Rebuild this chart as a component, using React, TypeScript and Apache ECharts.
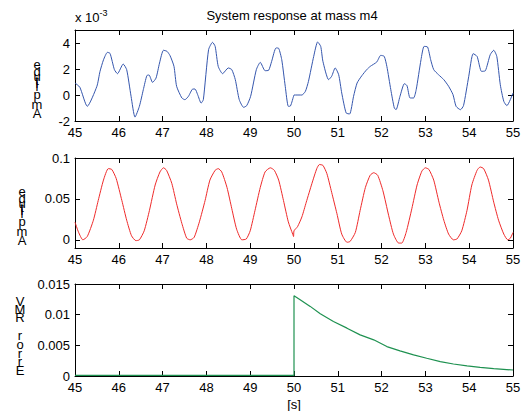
import React, { useEffect, useRef } from "react";
import * as echarts from "echarts";

// ---- Data ----
const xTicks = [45, 46, 47, 48, 49, 50, 51, 52, 53, 54, 55];

// Plot 1: amplitude (x 10^-3)
const t1 = [45.0, 45.11, 45.28, 45.5, 45.57, 45.65, 45.74, 45.8, 45.9, 45.97, 46.1, 46.18, 46.28, 46.37, 46.47, 46.56, 46.64, 46.69, 46.77, 46.85, 46.93, 47.02, 47.1, 47.17, 47.26, 47.32, 47.44, 47.51, 47.59, 47.69, 47.74, 47.8, 47.88, 47.93, 48.05, 48.14, 48.2, 48.27, 48.37, 48.5, 48.58, 48.66, 48.75, 48.85, 48.92, 49.01, 49.14, 49.23, 49.34, 49.42, 49.49, 49.59, 49.65, 49.72, 49.8, 49.87, 49.91, 49.99, 50.0, 50.18, 50.26, 50.33, 50.45, 50.54, 50.61, 50.66, 50.79, 50.86, 50.94, 51.02, 51.09, 51.19, 51.27, 51.36, 51.44, 51.55, 51.66, 51.74, 51.89, 51.98, 52.06, 52.12, 52.21, 52.29, 52.33, 52.42, 52.52, 52.58, 52.65, 52.73, 52.79, 52.9, 52.97, 53.05, 53.12, 53.19, 53.3, 53.42, 53.53, 53.63, 53.7, 53.8, 53.87, 53.99, 54.09, 54.18, 54.28, 54.37, 54.48, 54.56, 54.63, 54.71, 54.79, 54.86, 55.0];
const v1 = [0.92, 0.6, -0.87, 0.67, 1.8, 2.7, 3.28, 3.2, 1.95, 1.64, 2.38, 1.95, -0.1, -1.7, -0.87, 0.41, 1.49, 1.54, 0.97, 1.3, 2.46, 3.44, 3.36, 3.03, 2.2, 0.67, -0.23, -0.36, -0.1, 0.46, 0.46, 0.03, -0.62, -0.36, 3.49, 4.05, 3.74, 2.2, 1.64, 2.08, 1.95, 1.18, -0.36, -0.95, -0.82, -0.1, 1.95, 2.51, 1.87, 1.9, 2.59, 3.62, 3.59, 2.72, 0.67, -0.87, -0.87, -0.1, 0, 0, 0.28, 1.05, 2.97, 4.08, 3.74, 2.59, 1.18, 1.44, 2.08, 1.56, 0.15, -1.38, -1.46, -0.1, 0.92, 1.49, 1.95, 2.2, 2.54, 3.05, 2.97, 2.2, 0.41, -1.0, -1.13, -0.1, 0.87, 0.72, -0.23, -0.23, 0.41, 2.72, 3.74, 3.69, 2.72, 1.95, 1.56, 1.18, 0.67, 0.03, -0.87, -1.13, -0.82, 1.44, 3.18, 2.97, 1.82, 1.87, 3.1, 3.44, 2.97, 0.79, -0.49, -0.82, 0.15];

// Plot 2: amplitude
const t2 = [45.0, 45.08, 45.18, 45.28, 45.42, 45.53, 45.65, 45.76, 45.84, 45.94, 46.07, 46.18, 46.29, 46.39, 46.47, 46.58, 46.7, 46.83, 46.94, 47.02, 47.09, 47.21, 47.32, 47.44, 47.55, 47.63, 47.72, 47.84, 47.97, 48.08, 48.2, 48.27, 48.35, 48.47, 48.58, 48.69, 48.81, 48.91, 49.0, 49.11, 49.23, 49.34, 49.46, 49.55, 49.65, 49.76, 49.87, 49.97, 49.99, 50.0, 50.08, 50.18, 50.28, 50.41, 50.52, 50.58, 50.66, 50.75, 50.86, 50.98, 51.09, 51.21, 51.28, 51.4, 51.51, 51.63, 51.74, 51.82, 51.91, 52.03, 52.16, 52.27, 52.39, 52.46, 52.56, 52.69, 52.81, 52.92, 53.0, 53.08, 53.19, 53.31, 53.42, 53.53, 53.64, 53.72, 53.83, 53.95, 54.06, 54.18, 54.25, 54.33, 54.44, 54.56, 54.67, 54.79, 54.88, 54.94, 55.0];
const v2 = [0.0216, 0.0094, 0.0, 0.004, 0.024, 0.048, 0.073, 0.087, 0.086, 0.075, 0.048, 0.024, 0.005, -0.001, 0.0, 0.011, 0.036, 0.067, 0.083, 0.088, 0.085, 0.069, 0.044, 0.02, 0.002, 0.0, 0.003, 0.022, 0.048, 0.073, 0.085, 0.087, 0.083, 0.064, 0.038, 0.013, 0.0, 0.001, 0.011, 0.036, 0.064, 0.083, 0.088, 0.085, 0.073, 0.048, 0.022, 0.007, 0.004, 0.011, 0.016, 0.028, 0.046, 0.069, 0.087, 0.092, 0.091, 0.081, 0.058, 0.032, 0.007, -0.003, -0.002, 0.009, 0.036, 0.064, 0.079, 0.082, 0.079, 0.06, 0.03, 0.007, -0.004, -0.004, 0.009, 0.038, 0.067, 0.084, 0.088, 0.086, 0.073, 0.046, 0.024, 0.007, 0.0, 0.001, 0.011, 0.036, 0.067, 0.085, 0.089, 0.087, 0.073, 0.046, 0.024, 0.007, 0.0, 0.002, 0.009];

// Plot 3: Error RMV
const t3 = [45.0, 50.0, 50.0, 50.14, 50.37, 50.6, 50.9, 51.21, 51.51, 51.82, 52.12, 52.42, 52.73, 53.03, 53.34, 53.64, 53.95, 54.25, 54.56, 55.0];
const v3 = [0.0001, 0.0001, 0.0131, 0.01244, 0.01135, 0.01015, 0.00889, 0.0078, 0.0067, 0.0059, 0.0048, 0.0041, 0.00344, 0.00289, 0.00235, 0.00196, 0.00164, 0.00142, 0.0012, 0.00098];

const y1Ticks = [-2, 0, 2, 4];
const y2Ticks = [0, 0.05, 0.1];
const y3Ticks = [0, 0.005, 0.01, 0.015];

const title = "System response at mass m4";
const label1 = "Amplitude";
const label3 = "Error RMV";
const xName = "[s]";

const FONT = "Liberation Sans, Arial, sans-serif";

const pairs = (t: number[], v: number[]) => t.map((x, i) => [x, v[i]]);

export default function App() {
  const ref = useRef<HTMLDivElement>(null);
  useEffect(() => {
    if (!ref.current) return;
    document.body.style.margin = "0";
    const chart = echarts.init(ref.current, null, { renderer: "svg" });

    const grids = [
      { left: 75, top: 30, width: 438, height: 91, outerBoundsMode: "none", containLabel: false },
      { left: 75, top: 158, width: 438, height: 90, outerBoundsMode: "none", containLabel: false },
      { left: 75, top: 284, width: 438, height: 92, outerBoundsMode: "none", containLabel: false },
    ];

    const axisLine = { show: true, onZero: false, lineStyle: { color: "#000", width: 1 } };
    const tick = { show: true, inside: true, length: 5, lineStyle: { color: "#000", width: 1 } };
    const lbl = { fontFamily: FONT, fontSize: 13, color: "#000" };

    const xAxes: any[] = [];
    const yAxes: any[] = [];
    const yRanges = [
      { min: -2, max: 5, ticks: y1Ticks },
      { min: -0.01, max: 0.1, ticks: y2Ticks },
      { min: 0, max: 0.015, ticks: y3Ticks },
    ];
    for (let g = 0; g < 3; g++) {
      xAxes.push({
        type: "value", gridIndex: g, position: "bottom", min: 45, max: 55, interval: 1,
        axisLine, axisTick: { ...tick, customValues: xTicks },
        axisLabel: { ...lbl, margin: 5, customValues: xTicks },
        splitLine: { show: false },
      });
      xAxes.push({
        type: "value", gridIndex: g, position: "top", min: 45, max: 55, interval: 1,
        axisLine, axisTick: { ...tick, customValues: xTicks },
        axisLabel: { show: false }, splitLine: { show: false },
      });
      const r = yRanges[g];
      yAxes.push({
        type: "value", gridIndex: g, position: "left", min: r.min, max: r.max,
        axisLine, axisTick: { ...tick, customValues: r.ticks },
        axisLabel: { ...lbl, margin: 5, customValues: r.ticks, formatter: (v: number) => String(+v.toFixed(4)) },
        splitLine: { show: false },
      });
      yAxes.push({
        type: "value", gridIndex: g, position: "right", min: r.min, max: r.max,
        axisLine, axisTick: { ...tick, customValues: r.ticks },
        axisLabel: { show: false }, splitLine: { show: false },
      });
    }

    const stack = (text: string, cx: number, ys: number[]) =>
      text.split("").map((ch, i) => ({
        type: "text",
        x: cx,
        y: ys[i],
        style: { text: ch, fontFamily: FONT, fontSize: 13, fill: "#000", align: "center", verticalAlign: "middle" },
      }));

    // char centers (first char at bottom)
    const ampY1 = [113, 104, 94, 86, 83, 80, 76, 71, 64];
    const ampY2 = ampY1.map((y) => y + 127);
    const errY3 = [370, 361, 353, 344, 335, 329, 317, 309, 301];

    const option: any = {
      animation: false,
      backgroundColor: "#fff",
      grid: grids,
      xAxis: xAxes,
      yAxis: yAxes,
      series: [
        {
          type: "line", xAxisIndex: 0, yAxisIndex: 0, data: pairs(t1, v1), showSymbol: false, smooth: 0.2,
          lineStyle: { color: "#3556ad", width: 1 },
        },
        {
          type: "line", xAxisIndex: 2, yAxisIndex: 2, data: pairs(t2, v2), showSymbol: false, smooth: 0.2,
          lineStyle: { color: "#ee2a2a", width: 1 },
        },
        {
          type: "line", xAxisIndex: 4, yAxisIndex: 4, data: pairs(t3, v3), showSymbol: false,
          lineStyle: { color: "#1e9150", width: 1.2 },
        },
      ],
      graphic: [
        {
          type: "text", x: 292, y: 15,
          style: { text: title, fontFamily: FONT, fontSize: 13, fill: "#000", align: "center", verticalAlign: "middle" },
        },
        {
          type: "text", x: 75, y: 17,
          style: {
            text: "{a|x 10}{b|-3}", fontFamily: FONT, fill: "#000", verticalAlign: "middle",
            rich: {
              a: { fontFamily: FONT, fontSize: 13, fill: "#000" },
              b: { fontFamily: FONT, fontSize: 9, fill: "#000", verticalAlign: "top", padding: [0, 0, 8, 0] },
            },
          },
        },
        {
          type: "text", x: 294, y: 404,
          style: { text: xName, fontFamily: FONT, fontSize: 13, fill: "#000", align: "center", verticalAlign: "middle" },
        },
        ...stack(label1, 37, ampY1),
        ...stack(label1, 22, ampY2),
        ...stack(label3, 20, errY3),
      ],
    };
    chart.setOption(option);
    return () => chart.dispose();
  }, []);
  return <div ref={ref} style={{ width: 523, height: 411 }} />;
}
